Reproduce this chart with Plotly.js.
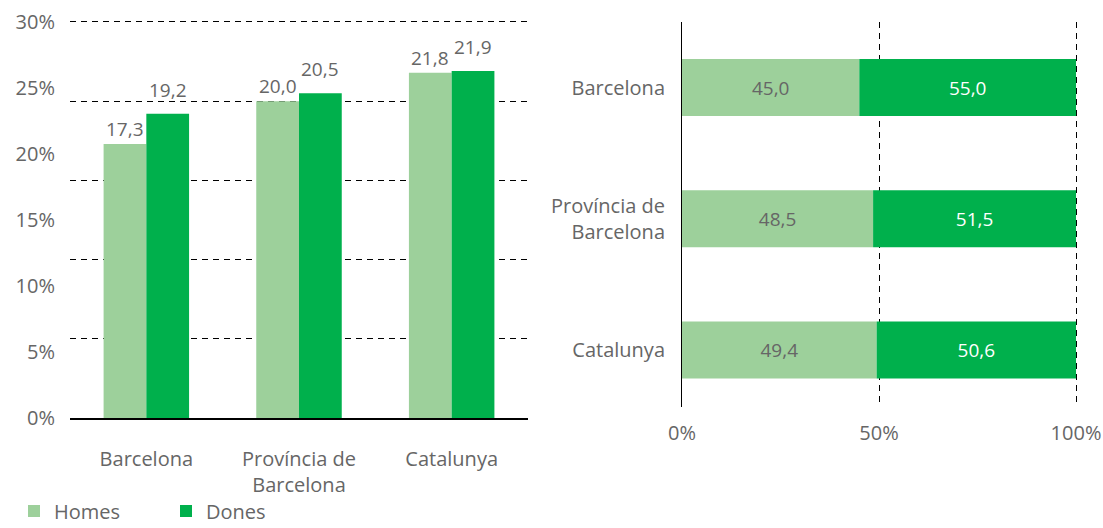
<!DOCTYPE html>
<html>
<head>
<meta charset="utf-8">
<script src="https://cdn.plot.ly/plotly-3.0.1.min.js"></script>
<style>html,body{margin:0;padding:0;background:#fff}#chart{width:1103px;height:528px}</style>
</head>
<body>
<div id="chart"></div>
<script>
// Left chart: share (%) by territory and sex
const categories = ["Barcelona", "Província de<br>Barcelona", "Catalunya"];
const homesPct = [17.3, 20.0, 21.8];
const donesPct = [19.2, 20.5, 21.9];
// Right chart: distribution Homes / Dones (%)
const homesShare = [45.0, 48.5, 49.4];
const donesShare = [55.0, 51.5, 50.6];
// Tick labels
const leftTickVals = [0, 5, 10, 15, 20, 25, 30];
const leftTickText = ["0%", "5%", "10%", "15%", "20%", "25%", "30%"];
const rightTickVals = [0, 50, 100];
const rightTickText = ["0%", "50%", "100%"];

const LIGHT = "#9dd09b";
const DARK = "#00b04c";
const GREY = "#666666";
const FONT = "'Open Sans', Roboto, sans-serif";
const FS = 20;
const VS = 19;
const BARGAP = 0.44;

const fmt = v => v.toFixed(1).replace(".", ",");

const traces = [
  {
    type: "bar", name: "Homes", x: categories, y: homesPct,
    xaxis: "x", yaxis: "y", marker: {color: LIGHT}, hoverinfo: "skip"
  },
  {
    type: "bar", name: "Dones", x: categories, y: donesPct,
    xaxis: "x", yaxis: "y", marker: {color: DARK}, hoverinfo: "skip"
  },
  {
    // invisible helper so the label axis (0–30 %) is drawn
    type: "scatter", mode: "markers", x: [categories[0]], y: [leftTickVals[0]],
    xaxis: "x", yaxis: "y2", marker: {opacity: 0, size: 1},
    showlegend: false, hoverinfo: "skip"
  },
  {
    type: "bar", name: "Homes", x: homesShare, y: categories, orientation: "h",
    xaxis: "x2", yaxis: "y3", marker: {color: LIGHT}, offsetgroup: "s", width: 0.435,
    texttemplate: "%{x:.1f}", textposition: "inside", insidetextanchor: "middle",
    textfont: {color: GREY, size: VS, family: FONT}, showlegend: false, hoverinfo: "skip"
  },
  {
    type: "bar", name: "Dones", x: donesShare, base: homesShare, y: categories, orientation: "h",
    xaxis: "x2", yaxis: "y3", marker: {color: DARK}, offsetgroup: "s", width: 0.435,
    texttemplate: "%{x:.1f}", textposition: "inside", insidetextanchor: "middle",
    textfont: {color: "#ffffff", size: VS, family: FONT}, showlegend: false, hoverinfo: "skip"
  }
];

// value labels above the grouped bars, placed on the data scale
const half = (1 - BARGAP) / 4;
const annotations = [];
homesPct.forEach((v, i) => annotations.push({
  xref: "x", yref: "y", x: i - half, y: v, text: fmt(v), showarrow: false,
  yanchor: "middle", yshift: 15, font: {size: VS, color: GREY, family: FONT}
}));
donesPct.forEach((v, i) => annotations.push({
  xref: "x", yref: "y", x: i + half, y: v, text: fmt(v), showarrow: false,
  yanchor: "middle", yshift: 24, font: {size: VS, color: GREY, family: FONT}
}));

const W = 1103, H = 528;
const fx = px => px / W;
const fy = py => (H - py) / H;

const layout = {
  width: W, height: H,
  margin: {l: 0, r: 0, t: 0, b: 0, autoexpand: false},
  paper_bgcolor: "#fff", plot_bgcolor: "rgba(0,0,0,0)",
  font: {family: FONT, size: FS, color: GREY},
  separators: ",.",
  barmode: "group", bargap: BARGAP, bargroupgap: 0,
  showlegend: true,
  annotations: annotations,
  legend: {
    orientation: "h", xref: "container", yref: "container",
    x: fx(14), y: fy(511), xanchor: "left", yanchor: "middle",
    font: {size: FS, color: GREY, family: FONT},
    entrywidth: 107, entrywidthmode: "pixels", traceorder: "normal"
  },
  xaxis: {
    domain: [fx(70), fx(528)], anchor: "y", automargin: false,
    range: [-0.5, 2.5], showgrid: false, zeroline: false,
    showline: true, linecolor: "#000", linewidth: 1.5,
    ticks: "", ticklabelstandoff: 22,
    tickfont: {size: FS, color: GREY}
  },
  yaxis: {
    domain: [fy(418), fy(20.4)], anchor: "x", automargin: false,
    range: [0, 25.1], dtick: 5, tick0: 0,
    showticklabels: false, ticks: "",
    showgrid: true, gridcolor: "#000", gridwidth: 1, griddash: "6px,5px",
    zeroline: false, showline: false
  },
  yaxis2: {
    overlaying: "y", anchor: "x", side: "left", automargin: false,
    range: [0, 30.12], tickmode: "array", tickvals: leftTickVals, ticktext: leftTickText,
    showgrid: false, zeroline: false, showline: false, ticks: "",
    ticklabelstandoff: 14, tickfont: {size: FS, color: GREY}
  },
  xaxis2: {
    domain: [fx(682), fx(1077.2)], anchor: "y3", automargin: false,
    range: [0, 100.3], tickmode: "array", tickvals: rightTickVals, ticktext: rightTickText,
    showgrid: true, gridcolor: "#000", gridwidth: 1, griddash: "6px,5px",
    zeroline: false, showline: false, ticks: "",
    ticklabelstandoff: 12, tickfont: {size: FS, color: GREY}
  },
  yaxis3: {
    domain: [fy(407), fy(22)], anchor: "x2", automargin: false,
    type: "category", range: [2.434, -0.499],
    showgrid: false, zeroline: false,
    showline: true, linecolor: "#000", linewidth: 1,
    ticks: "", ticklabelstandoff: 12, tickfont: {size: FS, color: GREY}
  }
};

Plotly.newPlot("chart", traces, layout, {displayModeBar: false, staticPlot: true});
</script>
</body>
</html>
